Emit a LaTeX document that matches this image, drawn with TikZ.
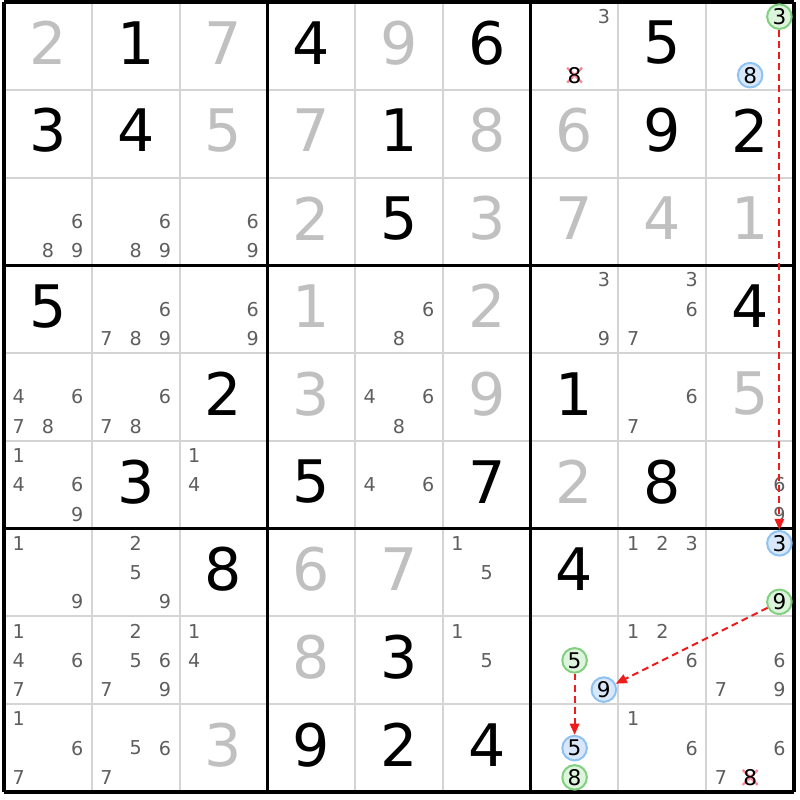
\documentclass[tikz,border=0pt]{standalone}
\usepackage{fontspec}
\setmainfont{DejaVu Sans}
\usetikzlibrary{arrows.meta}
\definecolor{solved}{HTML}{C0C0C0}
\definecolor{pencil}{HTML}{5E5E5E}
\definecolor{thingrid}{HTML}{D4D4D4}
\definecolor{onfill}{HTML}{DDF4DD}
\definecolor{ondraw}{HTML}{80D080}
\definecolor{offfill}{HTML}{D8E8FA}
\definecolor{offdraw}{HTML}{8EC2F2}
\definecolor{linkred}{HTML}{F01C1C}
\definecolor{crossred}{HTML}{FF8494}
\tikzset{
  given/.style={font=\fontsize{19}{19}\selectfont, text=black, inner sep=0pt},
  placed/.style={given, text=solved},
  cand/.style={font=\fontsize{6.2}{6.2}\selectfont, text=pencil, inner sep=0pt},
  oncand/.style={cand, font=\fontsize{7}{7}\selectfont, text=black, circle,
    draw=ondraw, fill=onfill, line width=0.65pt, minimum size=0.28cm},
  offcand/.style={oncand, draw=offdraw, fill=offfill},
  thinline/.style={draw=thingrid, line width=0.65pt},
  boxline/.style={draw=black, line width=1pt},
  chain/.style={draw=linkred, dash pattern=on 2.2pt off 1.4pt, line width=0.65pt,
    -{Triangle[length=3.6pt,width=3pt]}},
}
\begin{document}
\begin{tikzpicture}[x=1cm, y=-1cm]
  \useasboundingbox (-0.046,-0.023) rectangle (9.068,9.091);
  \fill[white] (-0.046,-0.023) rectangle (9.068,9.091);
  % grid
  \foreach \i in {1,2,4,5,7,8} {
    \draw[thinline] (\i,0) -- (\i,9);
    \draw[thinline] (0,\i) -- (9,\i);
  }
  \foreach \i in {0,3,6,9} {
    \draw[boxline] (\i,0) -- (\i,9);
    \draw[boxline] (0,\i) -- (9,\i);
  }
  % givens
  \foreach \r/\c/\v in {1/2/1, 1/4/4, 1/6/6, 1/8/5, 2/1/3, 2/2/4, 2/5/1, 2/8/9, 2/9/2,
      3/5/5, 4/1/5, 4/9/4, 5/3/2, 5/7/1, 6/2/3, 6/4/5, 6/6/7, 6/8/8,
      7/3/8, 7/7/4, 8/5/3, 9/4/9, 9/5/2, 9/6/4}
    \node[given] (g\r\c) at (\c-0.5, \r-0.535) {\v};
  % solved cells
  \foreach \r/\c/\v in {1/1/2, 1/3/7, 1/5/9, 2/3/5, 2/4/7, 2/6/8, 2/7/6,
      3/4/2, 3/6/3, 3/7/7, 3/8/4, 3/9/1, 4/4/1, 4/6/2, 5/4/3, 5/6/9, 5/9/5,
      6/7/2, 7/4/6, 7/5/7, 8/4/8, 9/3/3}
    \node[placed] (g\r\c) at (\c-0.5, \r-0.535) {\v};
  % eliminated candidates
  \foreach \r/\c/\d in {1/7/8, 9/9/8} {
    \coordinate (x\r\c) at ({\c-1+(2*mod(\d-1,3)+1)/6}, {\r-1+(2*int((\d-1)/3)+1)/6});
    \draw[crossred, line width=0.7pt] ([shift={(-0.085,-0.085)}]x\r\c) -- ([shift={(0.085,0.085)}]x\r\c)
      ([shift={(-0.085,0.085)}]x\r\c) -- ([shift={(0.085,-0.085)}]x\r\c);
    \node[cand, text=black, font=\fontsize{7}{7}\selectfont] (n\r\c\d) at (x\r\c) {\d};
  }
  % pencil marks
  \foreach \r/\c/\ds in {1/7/{3}, 3/1/{6,8,9}, 3/2/{6,8,9}, 3/3/{6,9},
      4/2/{6,7,8,9}, 4/3/{6,9}, 4/5/{6,8}, 4/7/{3,9}, 4/8/{3,6,7},
      5/1/{4,6,7,8}, 5/2/{6,7,8}, 5/5/{4,6,8}, 5/8/{6,7},
      6/1/{1,4,6,9}, 6/3/{1,4}, 6/5/{4,6}, 6/9/{6,9},
      7/1/{1,9}, 7/2/{2,5,9}, 7/6/{1,5}, 7/8/{1,2,3},
      8/1/{1,4,6,7}, 8/2/{2,5,6,7,9}, 8/3/{1,4}, 8/6/{1,5}, 8/8/{1,2,6}, 8/9/{6,7,9},
      9/1/{1,6,7}, 9/2/{5,6,7}, 9/8/{1,6}, 9/9/{6,7}}
    \foreach \d in \ds
      \node[cand] (n\r\c\d) at ({\c-1+(2*mod(\d-1,3)+1)/6}, {\r-1+(2*int((\d-1)/3)+1)/6}) {\d};
  % chain candidates
  \foreach \r/\c/\d/\k in {1/9/3/oncand, 1/9/8/offcand, 7/9/3/offcand, 7/9/9/oncand,
      8/7/5/oncand, 8/7/9/offcand, 9/7/5/offcand, 9/7/8/oncand}
    \node[\k] (n\r\c\d) at ({\c-1+(2*mod(\d-1,3)+1)/6}, {\r-1+(2*int((\d-1)/3)+1)/6}) {\d};
  % links
  \draw[chain] (n193) -- (n793);
  \draw[chain] (n799) -- (n879);
  \draw[chain] (n875) -- (n975);
\end{tikzpicture}
\end{document}
